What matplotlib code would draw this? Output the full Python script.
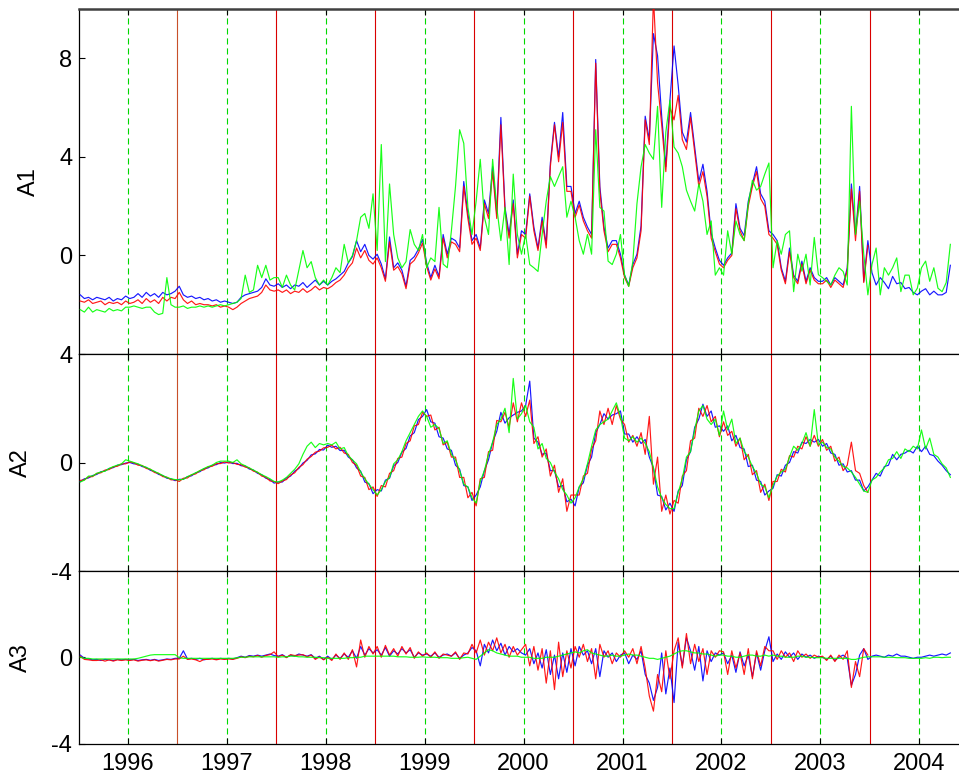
import numpy as np
import matplotlib
matplotlib.use('Agg')
import matplotlib.pyplot as plt

plt.rcParams['font.family'] = ['Liberation Sans', 'DejaVu Sans']
plt.rcParams['axes.unicode_minus'] = False

# ---------------- data (semi-monthly samples starting mid-1995) ----------------
T0 = 1995.5 + 1.0 / 48
STEP = 1.0 / 24

a1_blue = [
    -1.60, -1.75, -1.70, -1.80, -1.70, -1.75, -1.80, -1.70, -1.85, -1.75, -1.80, -1.65,
    -1.75, -1.70, -1.55, -1.70, -1.50, -1.65, -1.55, -1.70, -1.50, -1.60, -1.55, -1.45,
    -1.25, -1.60, -1.70, -1.65, -1.75, -1.70, -1.80, -1.75, -1.85, -1.80, -1.90, -1.85,
    -1.90, -1.95, -1.90, -1.70, -1.60, -1.55, -1.50, -1.45, -1.30, -0.95, -1.20, -1.25,
    -1.15, -1.30, -1.20, -1.35, -1.20, -1.25, -1.10, -1.30, -1.15, -1.00, -1.20, -1.05,
    -1.20, -1.05, -0.95, -0.80, -0.65, -0.30, -0.05, 0.60, 0.15, 0.45, 0.00, -0.15,
    0.05, -0.35, -0.95, 0.75, -0.50, -0.30, -0.60, -1.25, -0.20, -0.05, 0.25, 0.65,
    -0.30, -0.90, -0.40, -0.85, 0.85, 0.05, 0.70, 0.60, 0.30, 3.00, 1.70, 0.60,
    0.85, 0.30, 2.25, 1.70, 3.60, 1.70, 5.60, 1.95, 0.85, 2.25, 0.05, 1.00,
    0.85, 2.50, 1.15, 0.30, 1.55, 0.45, 3.75, 5.40, 4.00, 5.80, 2.80, 2.80,
    1.70, 2.20, 1.55, 1.15, 0.85, 7.95, 2.80, 1.15, 0.30, 0.60, 0.60, 0.05,
    -0.80, -1.20, -0.37, 0.05, 1.20, 5.65, 4.70, 9.00, 8.10, 5.65, 3.60, 6.30,
    8.50, 6.90, 5.00, 4.60, 5.80, 4.40, 3.00, 3.70, 2.60, 0.90, 0.30, -0.20,
    -0.40, -0.10, 0.10, 2.10, 1.10, 0.80, 2.20, 2.90, 3.60, 2.50, 2.20, 1.00,
    0.85, 0.60, -0.50, -1.05, 0.30, -0.80, -1.05, -0.23, -1.05, -0.50, -0.90, -1.05,
    -1.05, -0.90, -1.20, -0.90, -1.05, -1.20, -0.50, 2.90, 0.85, 2.80, -1.05, 0.60,
    -0.70, -1.20, -0.90, -1.10, -1.35, -0.85, -1.15, -1.10, -1.35, -1.30, -1.50, -1.60,
    -1.45, -1.35, -1.60, -1.45, -1.60, -1.60, -1.50, -0.40,
]
a1_red = [
    -1.85, -1.90, -1.80, -1.95, -1.90, -1.85, -2.00, -1.90, -1.95, -1.90, -2.00, -1.85,
    -1.95, -1.90, -1.80, -1.95, -1.75, -1.90, -1.80, -1.95, -1.70, -1.85, -1.70, -1.75,
    -1.50, -1.80, -1.95, -1.85, -2.00, -1.95, -2.00, -2.00, -2.05, -2.00, -2.10, -2.05,
    -2.10, -2.20, -2.10, -1.95, -1.85, -1.75, -1.70, -1.65, -1.50, -1.20, -1.40, -1.45,
    -1.40, -1.50, -1.40, -1.55, -1.45, -1.50, -1.35, -1.50, -1.40, -1.25, -1.40, -1.30,
    -1.35, -1.25, -1.10, -1.00, -0.80, -0.50, -0.30, 0.30, -0.10, 0.20, -0.20, -0.35,
    -0.10, -0.50, -1.05, 0.55, -0.60, -0.45, -0.75, -1.35, -0.35, -0.20, 0.10, 0.50,
    -0.45, -1.00, -0.55, -0.95, 0.70, -0.10, 0.55, 0.45, 0.15, 2.80, 1.50, 0.45,
    0.70, 0.20, 2.10, 1.50, 3.40, 1.50, 5.30, 1.80, 0.70, 2.10, -0.10, 0.85,
    0.70, 2.40, 1.00, 0.20, 1.40, 0.30, 3.60, 5.30, 3.80, 5.40, 2.60, 2.60,
    1.55, 2.05, 1.40, 1.00, 0.70, 7.80, 2.60, 1.00, 0.15, 0.45, 0.45, -0.10,
    -0.90, -1.25, -0.50, -0.10, 1.00, 5.50, 4.50, 10.50, 7.00, 5.30, 3.40, 6.00,
    5.50, 6.50, 4.70, 4.30, 5.60, 4.20, 2.80, 3.40, 2.40, 0.70, 0.15, -0.35,
    -0.50, -0.20, 0.00, 1.90, 1.00, 0.60, 2.00, 2.80, 3.40, 2.30, 2.00, 0.85,
    0.70, 0.45, -0.60, -1.15, 0.15, -0.90, -1.15, -0.35, -1.15, -0.60, -1.00, -1.15,
    -1.15, -1.00, -1.30, -1.00, -1.15, -1.30, -0.60, 2.70, 0.60, 2.60, -1.10, 0.40,
]
a1_green = [
    -2.20, -2.30, -2.10, -2.30, -2.20, -2.25, -2.30, -2.15, -2.25, -2.20, -2.25, -2.10,
    -2.10, -2.05, -2.10, -2.15, -2.10, -2.10, -2.30, -2.40, -2.35, -0.90, -2.00, -2.10,
    -2.10, -2.05, -2.15, -2.10, -2.10, -2.05, -2.10, -2.05, -2.10, -2.05, -2.00, -2.05,
    -2.00, -1.95, -1.90, -1.75, -0.80, -1.50, -1.40, -0.40, -0.90, -0.40, -1.00, -0.90,
    -0.90, -1.30, -0.80, -1.20, -1.40, -0.60, 0.20, -0.50, -0.25, -0.90, -1.20, -1.00,
    -1.20, -0.90, -0.50, -0.70, 0.45, -0.30, 0.00, 0.60, 1.55, 1.70, 1.10, 2.50,
    0.20, 4.50, -0.25, 2.90, 0.85, -0.10, -0.50, -0.25, 1.05, 0.45, 0.20, 0.85,
    -0.50, -0.10, -0.25, 1.95, -0.35, -0.50, 1.00, 2.80, 5.10, 4.55, 1.95, 0.85,
    2.20, 3.90, 1.55, 0.85, 3.90, 1.95, 0.60, 1.95, -0.37, 3.30, 0.85, 0.05,
    0.85, -0.37, -0.50, -0.65, 0.85, 2.20, 3.20, 2.80, 3.20, 3.60, 1.55, 2.20,
    1.55, 0.60, 0.05, 0.85, 0.05, 5.10, 1.95, 1.80, -0.23, -0.37, 0.05, 0.85,
    -0.80, -1.26, -0.25, 2.10, 3.60, 4.50, 4.15, 3.90, 6.05, 1.95, 5.00, 6.30,
    4.40, 4.15, 3.60, 2.65, 2.20, 1.80, 2.90, 2.20, 0.85, 1.40, -0.80, -0.50,
    -0.80, 1.00, 0.05, 1.40, 0.85, 0.60, 2.10, 3.05, 2.65, 2.80, 3.30, 3.75,
    -0.50, 0.60, 0.05, 0.85, 1.00, -1.47, 0.05, -0.64, 0.05, -1.20, 0.73, -0.78,
    -0.90, -1.05, -1.20, -0.80, -0.50, -0.65, -1.20, 6.05, 0.85, 2.20, 0.05, -1.60,
    -0.37, 0.30, -1.60, -0.50, -0.80, -0.50, -0.10, -1.47, -0.80, -0.80, -1.60, -1.33,
    -0.50, -0.23, -1.05, -0.50, -1.33, -1.47, -1.10, 0.45,
]

a2_blue = [
    -0.70, -0.60, -0.57, -0.48, -0.44, -0.34, -0.31, -0.22, -0.19, -0.10, -0.08, -0.02,
    0.00, -0.05, -0.06, -0.15, -0.18, -0.29, -0.33, -0.44, -0.48, -0.58, -0.60, -0.67,
    -0.62, -0.62, -0.52, -0.49, -0.38, -0.34, -0.23, -0.20, -0.10, -0.08, 0.00, -0.02,
    0.02, -0.04, -0.03, -0.12, -0.13, -0.24, -0.28, -0.40, -0.45, -0.58, -0.63, -0.76,
    -0.72, -0.72, -0.57, -0.50, -0.32, -0.22, -0.02, 0.08, 0.28, 0.32, 0.48, 0.46,
    0.64, 0.56, 0.60, 0.44, 0.45, 0.20, 0.10, -0.20, -0.32, -0.72, -0.78, -1.15,
    -1.00, -1.05, -0.65, -0.58, -0.12, 0.00, 0.38, 0.52, 0.98, 1.10, 1.58, 1.70,
    1.95, 1.50, 1.45, 0.95, 0.90, 0.50, 0.45, -0.10, -0.25, -0.85, -0.90, -1.40,
    -1.20, -0.90, -0.30, 0.10, 0.75, 1.15, 1.85, 1.45, 1.65, 1.75, 1.85, 1.90,
    2.10, 3.00, 0.90, 0.75, 0.30, 0.35, -0.30, -0.30, -0.90, -0.85, -1.45, -1.35,
    -1.60, -0.90, -0.75, -0.10, 0.20, 1.10, 1.40, 1.80, 1.60, 1.75, 1.80, 1.90,
    1.05, 1.05, 0.75, 0.95, 0.70, 0.85, 0.20, -0.20, -1.20, -1.25, -1.75, -1.50,
    -1.80, -1.05, -0.85, 0.10, 0.40, 1.30, 1.60, 2.15, 1.70, 1.90, 1.30, 1.35,
    1.15, 1.35, 0.80, 1.00, 0.55, 0.50, -0.15, -0.10, -0.65, -0.70, -1.20, -1.05,
    -0.95, -0.45, -0.50, -0.10, 0.00, 0.40, 0.35, 0.75, 0.70, 0.85, 0.75, 0.85,
    0.60, 0.70, 0.35, 0.30, -0.10, -0.05, -0.35, -0.30, -0.65, -0.65, -1.05, -0.90,
    -0.65, -0.40, -0.50, -0.15, -0.10, 0.30, 0.10, 0.30, 0.35, 0.45, 0.35, 0.60,
    0.40, 0.60, 0.30, 0.25, 0.05, -0.10, -0.30, -0.45,
]
a2_red = [
    -0.66, -0.64, -0.53, -0.52, -0.40, -0.38, -0.28, -0.26, -0.16, -0.14, -0.05, -0.05,
    0.02, -0.01, -0.10, -0.11, -0.22, -0.25, -0.37, -0.40, -0.52, -0.54, -0.64, -0.63,
    -0.70, -0.58, -0.57, -0.45, -0.42, -0.30, -0.27, -0.16, -0.14, -0.04, -0.04, 0.02,
    -0.02, 0.00, -0.07, -0.08, -0.17, -0.20, -0.32, -0.36, -0.50, -0.54, -0.68, -0.70,
    -0.78, -0.68, -0.63, -0.46, -0.38, -0.18, -0.08, 0.12, 0.22, 0.38, 0.42, 0.54,
    0.56, 0.64, 0.50, 0.56, 0.35, 0.30, 0.00, -0.10, -0.50, -0.55, -1.00, -0.90,
    -1.25, -0.85, -0.90, -0.40, -0.30, 0.15, 0.20, 0.70, 0.80, 1.35, 1.40, 1.85,
    1.70, 1.75, 1.20, 1.30, 0.65, 0.75, 0.20, 0.20, -0.55, -0.55, -1.30, -1.10,
    -1.60, -0.60, -0.55, 0.40, 0.45, 1.55, 1.50, 1.85, 1.30, 2.20, 1.50, 2.20,
    1.70, 2.30, 0.70, 0.95, 0.20, 0.50, -0.50, -0.10, -1.10, -0.60, -1.80, -1.20,
    -1.20, -1.20, -0.50, -0.40, 0.50, 0.80, 1.90, 1.40, 2.00, 1.40, 2.10, 1.60,
    1.40, 0.75, 1.00, 0.60, 1.10, 0.30, 1.70, -0.80, 0.20, -1.80, -1.20, -1.90,
    -1.40, -1.50, -0.50, -0.30, 0.80, 0.90, 2.00, 1.70, 2.10, 1.50, 1.70, 0.95,
    1.50, 1.00, 1.15, 0.60, 0.90, 0.10, 0.30, -0.45, -0.30, -1.10, -0.80, -1.40,
    -0.70, -0.70, -0.25, -0.35, 0.25, 0.20, 0.60, 0.50, 0.95, 0.60, 1.00, 0.60,
    0.85, 0.45, 0.60, 0.05, 0.20, -0.30, -0.10, 0.75, -0.30, -0.40, -0.85, -1.10,
]
a2_green = [
    -0.72, -0.65, -0.50, -0.50, -0.40, -0.35, -0.32, -0.22, -0.15, -0.10, -0.05, 0.10,
    0.05, 0.00, -0.05, -0.12, -0.18, -0.25, -0.33, -0.40, -0.48, -0.55, -0.60, -0.63,
    -0.64, -0.62, -0.52, -0.45, -0.38, -0.30, -0.22, -0.15, -0.10, 0.00, 0.05, 0.05,
    0.05, 0.00, 0.10, -0.05, -0.12, -0.20, -0.28, -0.36, -0.45, -0.52, -0.60, -0.70,
    -0.72, -0.65, -0.55, -0.40, -0.25, -0.05, 0.30, 0.60, 0.75, 0.55, 0.70, 0.65,
    0.70, 0.65, 0.75, 0.50, 0.55, 0.25, 0.10, -0.05, -0.35, -0.60, -0.80, -1.00,
    -1.20, -1.00, -0.70, -0.55, -0.05, 0.10, 0.40, 0.80, 1.10, 1.40, 1.70, 1.90,
    1.70, 1.30, 1.40, 1.25, 0.70, 0.80, 0.30, 0.10, -0.30, -0.80, -0.90, -1.30,
    -1.50, -0.70, -0.30, 0.30, 0.75, 1.40, 1.60, 2.00, 1.10, 3.10, 1.60, 1.80,
    2.10, 1.50, 1.30, 0.50, 0.70, 0.15, 0.00, -0.35, -0.60, -1.00, -1.20, -1.50,
    -1.30, -0.90, -0.60, -0.05, 0.60, 1.20, 1.40, 1.50, 1.60, 1.90, 2.20, 1.70,
    0.90, 0.80, 0.95, 0.75, 0.90, 0.70, 0.40, -0.20, -0.90, -1.30, -1.55, -1.70,
    -1.70, -1.10, -0.60, 0.20, 0.40, 1.20, 1.90, 2.10, 1.60, 1.40, 1.60, 1.00,
    1.90, 1.20, 1.60, 0.70, 0.90, 0.40, 0.20, -0.15, -0.40, -0.80, -0.90, -1.30,
    -0.85, -0.50, -0.35, -0.25, 0.20, 0.60, 0.45, 0.70, 1.10, 0.60, 1.95, 0.65,
    0.75, 0.55, 0.50, 0.20, 0.05, -0.15, -0.20, -0.35, -0.55, -0.80, -1.05, -1.10,
    -0.65, -0.55, -0.35, -0.20, 0.10, 0.15, 0.40, 0.15, 0.50, 0.40, 0.60, 0.50,
    1.20, 0.50, 0.90, 0.30, 0.20, -0.05, -0.20, -0.55,
]

a3_blue = [
    0.10, -0.05, -0.08, -0.12, -0.10, -0.15, -0.10, -0.12, -0.15, -0.10, -0.12, -0.10,
    -0.12, -0.10, -0.15, -0.12, -0.10, -0.14, -0.10, -0.15, -0.12, -0.08, -0.10, -0.05,
    -0.05, 0.30, -0.08, -0.05, -0.10, -0.05, -0.12, -0.08, -0.05, -0.10, -0.05, -0.08,
    -0.05, -0.08, -0.02, 0.05, 0.00, 0.08, 0.05, 0.10, 0.05, 0.10, 0.15, 0.08,
    0.05, 0.12, 0.00, 0.10, 0.05, 0.15, 0.10, 0.05, 0.12, -0.05, 0.05, -0.10,
    0.05, -0.10, 0.10, -0.05, 0.15, 0.00, 0.30, -0.05, 0.50, 0.10, 0.40, 0.20,
    0.35, 0.10, 0.45, 0.05, 0.30, 0.15, 0.40, 0.20, 0.35, 0.00, 0.20, 0.10,
    0.15, 0.05, 0.20, 0.00, 0.10, 0.15, 0.05, 0.20, -0.05, 0.10, 0.20, 0.45,
    0.30, -0.40, 0.60, 0.20, 0.80, 0.30, 0.65, 0.10, 0.50, 0.25, 0.40, 0.20,
    0.10, 0.40, -0.30, 0.20, -0.50, 0.35, -0.80, 0.10, -1.00, 0.20, -0.70, 0.40,
    -0.40, 0.50, 0.10, 0.30, -0.30, 0.40, -0.90, 0.30, 0.00, 0.20, -0.20, 0.10,
    0.20, -0.30, 0.10, -0.10, 0.30, -0.80, -1.20, -2.00, -1.40, 0.20, -1.70, -0.50,
    -2.10, 0.70, -0.40, 0.90, 0.30, -0.60, 0.50, -1.10, 0.30, -0.20, 0.20, 0.10,
    0.20, -0.30, 0.10, -0.70, 0.25, -0.40, 0.10, -0.90, 0.20, -0.60, 0.30, 0.95,
    -0.20, 0.15, -0.10, 0.25, 0.00, 0.20, -0.10, 0.15, 0.00, 0.10, -0.05, 0.05,
    0.00, -0.10, 0.05, -0.15, 0.00, 0.10, -0.05, -1.30, -0.80, 0.10, 0.40, -0.10,
    0.05, 0.10, 0.05, 0.00, 0.10, 0.05, 0.15, 0.05, 0.05, 0.00, -0.05, 0.00,
    0.00, 0.05, 0.10, 0.05, 0.10, 0.15, 0.10, 0.20,
]
a3_red = [
    0.05, -0.10, -0.12, -0.15, -0.15, -0.12, -0.18, -0.12, -0.18, -0.12, -0.15, -0.12,
    -0.15, -0.12, -0.18, -0.14, -0.12, -0.16, -0.12, -0.18, -0.14, -0.10, -0.12, -0.08,
    -0.08, 0.05, -0.10, -0.08, -0.12, -0.20, -0.10, -0.10, -0.08, -0.12, -0.08, -0.10,
    -0.08, -0.10, -0.05, 0.02, -0.02, 0.05, 0.02, 0.08, 0.00, 0.08, 0.12, 0.25,
    0.02, 0.10, -0.02, 0.12, 0.08, 0.10, 0.12, 0.02, 0.10, -0.10, 0.02, -0.12,
    0.00, -0.15, 0.15, -0.10, 0.20, -0.10, 0.35, -0.45, 0.80, 0.00, 0.50, 0.15,
    0.50, 0.00, 0.55, 0.10, 0.40, 0.05, 0.50, 0.15, 0.45, -0.05, 0.25, 0.05,
    0.20, 0.00, 0.25, -0.05, 0.15, 0.10, 0.05, 0.25, -0.10, 0.20, 0.15, 0.60,
    0.20, 0.80, 0.10, 0.70, 0.30, 0.90, 0.20, 0.60, 0.00, 0.50, 0.10, 0.35,
    0.60, -0.40, 0.50, -0.60, 0.40, -1.20, 0.30, -1.50, 0.70, -0.90, 0.30, -0.50,
    0.50, 0.00, 0.60, -0.20, 0.40, -1.00, 0.60, 0.00, 0.30, -0.30, 0.20, 0.00,
    0.30, 0.00, 0.40, -0.30, 0.50, -0.50, -1.80, -2.50, -0.80, -1.60, 0.30, -1.00,
    0.30, 0.90, -0.50, 1.10, -0.30, 0.60, -0.20, 0.40, -0.80, 0.30, 0.00, 0.30,
    0.25, -0.80, 0.30, -0.50, 0.20, -0.80, 0.40, -1.00, 0.30, -0.40, 0.50, 0.30,
    0.30, -0.10, 0.30, 0.00, 0.20, -0.20, 0.30, 0.00, 0.15, -0.05, 0.10, 0.00,
    0.05, -0.15, 0.10, -0.20, 0.10, -0.10, 0.30, -1.40, -0.20, -0.90, 0.40, 0.10,
]
a3_green = [
    0.00, -0.05, -0.05, -0.08, -0.08, -0.08, -0.08, -0.08, -0.08, -0.08, -0.08, -0.08,
    -0.08, -0.08, -0.05, 0.00, 0.05, 0.10, 0.12, 0.12, 0.12, 0.12, 0.12, 0.12,
    -0.02, -0.05, -0.05, -0.05, -0.05, -0.05, -0.05, -0.05, -0.05, -0.05, -0.05, -0.05,
    -0.05, -0.05, -0.03, 0.00, 0.00, 0.02, 0.02, 0.02, 0.02, 0.02, 0.02, 0.02,
    0.00, 0.02, 0.02, 0.05, 0.05, 0.02, 0.02, 0.00, 0.00, 0.00, -0.02, -0.02,
    -0.05, -0.05, -0.05, -0.05, -0.05, -0.02, -0.02, 0.00, 0.00, 0.05, 0.05, 0.05,
    0.05, 0.05, 0.05, 0.05, 0.05, 0.02, 0.02, 0.02, 0.00, 0.00, 0.00, 0.02,
    0.00, 0.00, 0.00, -0.02, -0.02, -0.02, -0.05, -0.05, -0.05, -0.02, 0.00, -0.05,
    -0.10, 0.05, 0.20, 0.35, 0.30, 0.20, 0.15, 0.10, 0.05, 0.05, 0.05, 0.00,
    0.00, 0.00, -0.05, -0.05, -0.05, 0.00, 0.00, 0.00, 0.05, 0.10, 0.15, 0.20,
    0.25, 0.20, 0.30, 0.35, 0.20, 0.15, 0.10, 0.05, 0.05, 0.10, 0.05, 0.05,
    0.10, 0.15, 0.10, 0.10, 0.05, 0.00, -0.05, -0.05, -0.10, -0.05, 0.00, 0.05,
    0.15, 0.25, 0.30, 0.30, 0.25, 0.20, 0.20, 0.15, 0.15, 0.10, 0.05, 0.10,
    0.10, 0.05, 0.05, 0.00, 0.00, 0.05, 0.10, 0.10, 0.05, 0.05, 0.10, 0.05,
    0.10, 0.05, 0.05, 0.00, 0.00, 0.00, 0.05, 0.05, 0.00, 0.00, -0.02, -0.02,
    -0.02, -0.05, -0.05, -0.05, -0.05, -0.05, -0.05, -0.10, -0.10, -0.05, 0.00, 0.02,
    0.02, 0.02, 0.02, 0.00, 0.00, 0.00, -0.02, -0.02, -0.02, -0.05, -0.05, -0.05,
    -0.05, -0.02, -0.05, 0.00, 0.00, -0.02, 0.00, 0.00,
]

year_ticks = [1996, 1997, 1998, 1999, 2000, 2001, 2002, 2003, 2004]
mid_years = [1996.5, 1997.5, 1998.5, 1999.5, 2000.5, 2001.5, 2002.5, 2003.5]
panel_labels = ['A1', 'A2', 'A3']
panel_ylims = [(-4, 10), (-4, 4), (-4, 4)]
panel_yticks = [[0, 4, 8], [-4, 0, 4], [-4, 0]]
panels = [
    (a1_blue, a1_red, a1_green),
    (a2_blue, a2_red, a2_green),
    (a3_blue, a3_red, a3_green),
]

# ---------------- figure ----------------
W, H = 959, 776
fig = plt.figure(figsize=(W / 100, H / 100), dpi=100)
left = 79.3 / W
right = 1.0
tops = [9, 354, 571]
bots = [354, 571, 743.5]

FS = 17
axes = []
for i in range(3):
    ax = fig.add_axes([left, 1 - bots[i] / H, right - left, (bots[i] - tops[i]) / H])
    axes.append(ax)
    blue, red, green = panels[i]
    for y in year_ticks:
        ax.axvline(y, color=(0.0, 0.85, 0.0), lw=0.8, dashes=(5.5, 3.5), zorder=1)
    for m in mid_years:
        c = '#c8502a' if m == 1996.5 else (0.85, 0.0, 0.0)
        ax.axvline(m, color=c, lw=0.8, zorder=1)
    for vals, col in ((blue, (0, 0, 1)), (red, (1, 0, 0)), (green, (0, 1, 0))):
        t = T0 + np.arange(len(vals)) * STEP
        ax.plot(t, vals, color=col, lw=0.85, alpha=0.9, zorder=3)
    ax.set_xlim(1995.511, 2004.40)
    ax.set_ylim(*panel_ylims[i])
    ax.set_yticks(panel_yticks[i])
    ax.set_xticks(year_ticks)
    ax.tick_params(axis='both', direction='in', length=4, width=0.8,
                   top=True, bottom=True, left=True, right=False,
                   labelsize=FS, pad=5)
    ax.tick_params(axis='x', pad=7)
    if i < 2:
        ax.set_xticklabels([])
    ax.set_ylabel(panel_labels[i], fontsize=FS, labelpad=14)
    ax.spines['right'].set_visible(False)
    for s in ('left', 'bottom', 'top'):
        ax.spines[s].set_linewidth(0.9)
    ax.set_facecolor('white')

axes[0].spines['top'].set_color('#404040')
axes[0].spines['top'].set_linewidth(1.8)

fig.savefig('out.png', dpi=100)
